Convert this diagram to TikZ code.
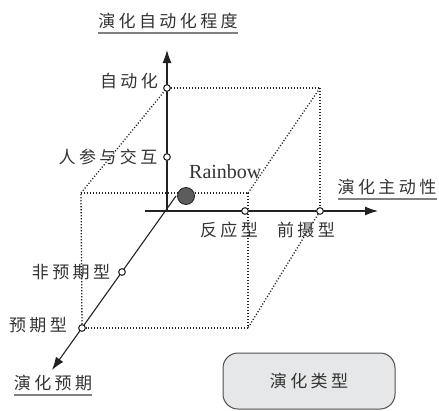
\documentclass[tikz,border=0pt]{standalone}
\usepackage{fontspec}
\newfontfamily\cjk[LetterSpace=20]{Noto Sans CJK SC}
\newfontfamily\tms{Liberation Serif}
\usetikzlibrary{arrows.meta}
\definecolor{ink}{HTML}{222222}
\definecolor{txt}{HTML}{333333}
\definecolor{boxfill}{HTML}{E6E7E8}
\definecolor{ballfill}{HTML}{5C5C5C}
\tikzset{
  lbl/.style={font=\cjk\fontsize{17}{17}\selectfont, text=txt, inner sep=0pt},
  ttl/.style={lbl, inner xsep=0pt, inner ysep=4pt},
  uline/.style={draw=gray, line width=2pt},
  axis/.style={draw=ink, line width=1.1pt, -{Latex[length=13pt,width=9pt]}},
  edge/.style={draw=ink, line width=1.3pt, dash pattern=on 1.1pt off 1.9pt},
  mark0/.style={circle, draw=ink, fill=white, line width=0.9pt, minimum size=6.5pt, inner sep=0pt},
  ball/.style={circle, draw=ink, fill=ballfill, line width=0.8pt, minimum size=17pt, inner sep=0pt},
  typebox/.style={draw=ink!80, fill=boxfill, line width=1pt, rounded corners=15pt, minimum width=172pt, minimum height=56pt, font=\cjk\fontsize{17}{17}\selectfont, text=txt}
}
\begin{document}
\begin{tikzpicture}[x=1pt, y=-1pt]
\useasboundingbox (0,0) rectangle (439,410);
% coordinates
\coordinate (o) at (167,211);
\coordinate (ytip) at (167,50);
\coordinate (xstart) at (145,211);
\coordinate (xtip) at (378,211);
\coordinate (dstart) at (176,196);
\coordinate (dtip) at (52,370);
\coordinate (B) at (320,88);
\coordinate (D) at (248,328);
\coordinate (F) at (81,193);
\coordinate (G) at (248,193);
% markers (placed first as nodes, drawn later on top)
\node[mark0] (mA) at (167,88) {};
\node[mark0] (mH) at (167,157) {};
\node[mark0] (mR) at (245,211) {};
\node[mark0] (mC) at (320,211) {};
\node[mark0] (mN) at (122,272) {};
\node[mark0] (mE) at (82,328) {};
% cube edges
\draw[edge] (mA) -- (B);
\draw[edge] (B) -- (mC);
\draw[edge] (mC) -- (D);
\draw[edge] (D) -- (mE);
\draw[edge] (mE) -- (F);
\draw[edge] (F) -- (G);
\draw[edge] (G) -- (D);
\draw[edge] (G) -- (B);
\draw[edge] (F) -- (mA);
% axes
\draw[axis] (o) -- (ytip);
\draw[axis] (xstart) -- (xtip);
\draw[axis] (dstart) -- (dtip);
% markers on top
\node[mark0] at (mA) {};
\node[mark0] at (mH) {};
\node[mark0] at (mR) {};
\node[mark0] at (mC) {};
\node[mark0] at (mN) {};
\node[mark0] at (mE) {};
% Rainbow
\node[ball] (rb) at (186,196) {};
\node[anchor=base west, inner sep=0pt, text=txt, font=\tms\fontsize{20}{20}\selectfont] (rbt) at (189,178) {Rainbow};
% labels
\node[lbl] (l1) at (129,81) {自动化};
\node[lbl] (l2) at (108,157) {人参与交互};
\node[lbl] (l3) at (229,230) {反应型};
\node[lbl] (l4) at (306,230) {前摄型};
\node[lbl] (l5) at (71,272) {非预期型};
\node[lbl] (l6) at (38,325) {预期型};
% titles
\node[ttl] (t1) at (168,21) {演化自动化程度};
\draw[uline] (t1.south west) -- (t1.south east);
\node[ttl] (t2) at (387,187) {演化主动性};
\draw[uline] (t2.south west) -- (t2.south east);
\node[ttl] (t3) at (53,383) {演化预期};
\draw[uline] (t3.south west) -- (t3.south east);
% type box
\node[typebox] (tb) at (309,381) {演化类型};
\end{tikzpicture}
\end{document}
